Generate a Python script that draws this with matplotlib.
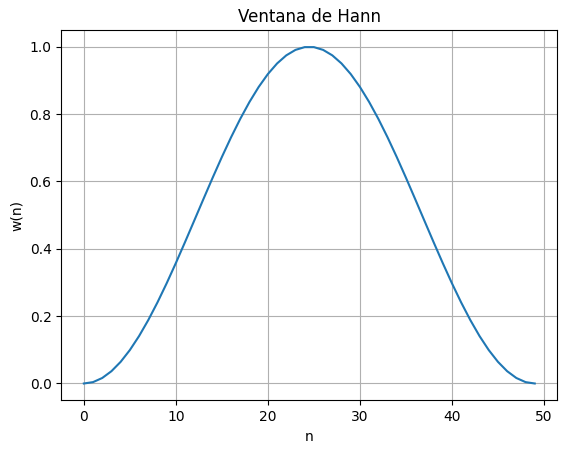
import matplotlib
matplotlib.use("Agg")
import matplotlib.pyplot as plt

n_values = list(range(50))
half = [0.0, 0.00410, 0.01635, 0.03654, 0.06434, 0.09929, 0.14083, 0.18826,
        0.24080, 0.29761, 0.35774, 0.42020, 0.48397, 0.54799, 0.61126, 0.67268,
        0.73127, 0.78606, 0.83615, 0.88072, 0.91904, 0.95048, 0.97453, 0.99078,
        0.99897]
w_values = half + half[::-1]

title = "Ventana de Hann"
xlabel = "n"
ylabel = "w(n)"

fig = plt.figure(figsize=(5.67, 4.53), dpi=100)
ax = fig.add_axes([0.1081, 0.1163, 0.8748, 0.8168])
ax.plot(n_values, w_values, color="#1f77b4")
ax.set_title(title)
ax.set_xlabel(xlabel)
ax.set_ylabel(ylabel)
ax.grid(True)
fig.savefig("out.png", dpi=100)
